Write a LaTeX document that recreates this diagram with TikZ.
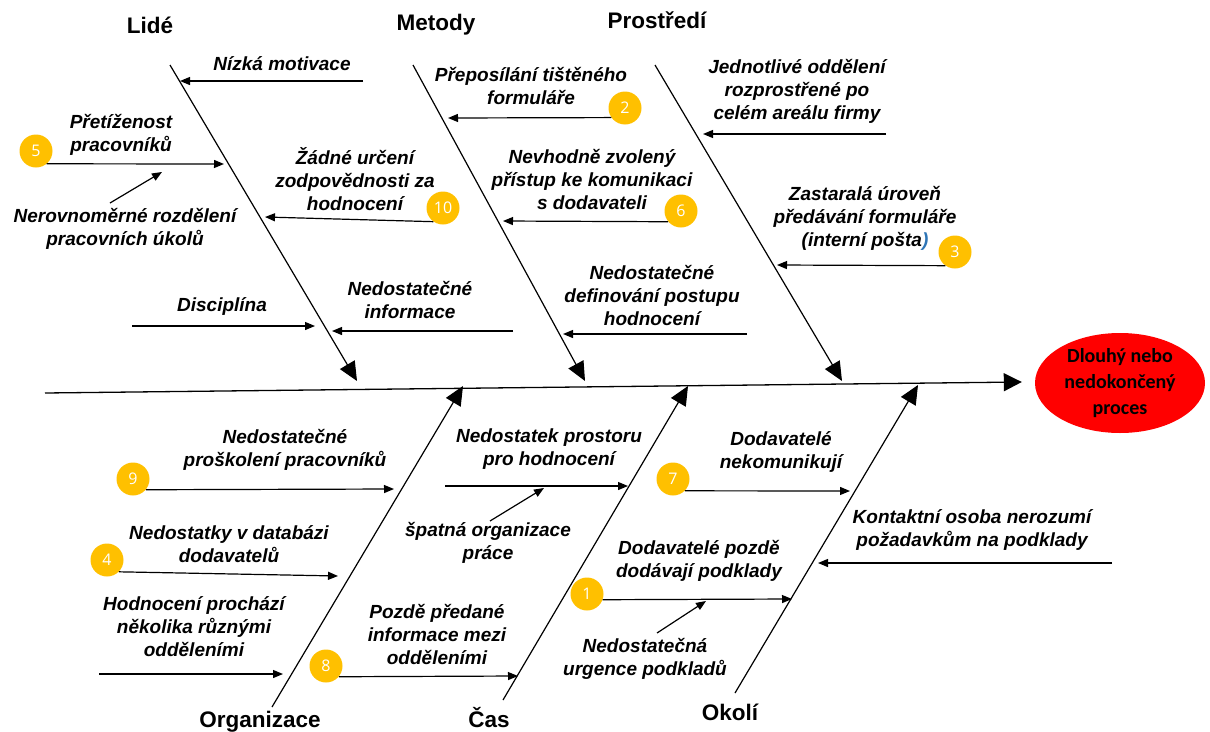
\documentclass[tikz,border=0pt]{standalone}
\usepackage{fontspec}
\setmainfont{Liberation Sans}
\newfontfamily\effectfont{Carlito}
\newfontfamily\badgefont{Open Sans}
\usetikzlibrary{arrows.meta,shapes.geometric}
\definecolor{badgeyellow}{HTML}{FFC000}
\definecolor{effectred}{HTML}{FF0000}
\definecolor{parenblue}{HTML}{2E75B6}
\tikzset{
  spine/.style={line width=1.3pt,-{Triangle[length=18pt,width=18pt]}},
  bone/.style={line width=1.2pt,-{Triangle[length=19pt,width=17pt]}},
  cause/.style={line width=1.2pt,-{Triangle[length=10pt,width=8pt]}},
  lbl/.style={align=center,inner sep=0pt,font=\fontsize{19}{23}\selectfont\bfseries\itshape},
  cat/.style={inner sep=0pt,anchor=base,font=\fontsize{22.5}{26}\selectfont\bfseries},
  badge/.style={circle,fill=badgeyellow,minimum size=33pt,inner sep=0pt,text=white,font=\badgefont\fontsize{16}{16}\selectfont},
  effectbox/.style={ellipse,fill=effectred,minimum width=170pt,minimum height=100pt,inner sep=0pt,align=center,font=\effectfont\fontsize{20}{26}\selectfont\bfseries}
}
\begin{document}
\begin{tikzpicture}[x=1pt,y=-1pt]
\useasboundingbox (0,0) rectangle (1210,731);

% effect and spine
\node[effectbox] (effect) at (1120,383) {Dlouhý nebo\\nedokončený\\proces};
\coordinate (tail) at (45,393);
\draw[spine] (tail) -- ([xshift=-13pt,yshift=1pt]effect.west);

% category bones
\coordinate (lideT) at (170,65);   \coordinate (lideH) at (357,381);
\coordinate (metT) at (413,65);    \coordinate (metH) at (585,381);
\coordinate (proT) at (655,65);    \coordinate (proH) at (842,381);
\coordinate (orgT) at (272,707);   \coordinate (orgH) at (463,386);
\coordinate (casT) at (503,700);   \coordinate (casH) at (688,386);
\coordinate (okoT) at (735,693);   \coordinate (okoH) at (918,385);
\draw[bone] (lideT) -- (lideH);
\draw[bone] (metT) -- (metH);
\draw[bone] (proT) -- (proH);
\draw[bone] (orgT) -- (orgH);
\draw[bone] (casT) -- (casH);
\draw[bone] (okoT) -- (okoH);

% category titles (placed on their baselines)
\node[cat] (tLide) at (150,33) {Lidé};
\node[cat] (tMet) at (436,30) {Metody};
\node[cat] (tPro) at (657,28) {Prostředí};
\node[cat] (tOrg) at (260,727) {Organizace};
\node[cat] (tCas) at (489,727) {Čas};
\node[cat] (tOko) at (730,720) {Okolí};

% ---- Lidé
\coordinate (a1s) at (363,81); \coordinate (a1e) at (180,81);
\draw[cause] (a1s) -- (a1e);
\node[lbl] (a1t) at (282,64) {Nízká motivace};

\node[badge] (n5) at (36,151) {5};
\coordinate (a2e) at (224,164);
\draw[cause] (n5.-50) -- (a2e);
\node[lbl] (a2t) at (121,135) {Přetíženost\\pracovníků};

\coordinate (a3s) at (110,203); \coordinate (a3e) at (162,172);
\draw[cause] (a3s) -- (a3e);
\node[lbl] (a3t) at (125,229) {Nerovnoměrné rozdělení\\pracovních úkolů};

\node[badge] (n10) at (443,208) {10};
\coordinate (a4e) at (265,217);
\draw[cause] (n10.-125) -- (a4e);
\node[lbl] (a4t) at (355,179) {Žádné určení\\zodpovědnosti za\\hodnocení};

\coordinate (a5s) at (132,326); \coordinate (a5e) at (315,326);
\draw[cause] (a5s) -- (a5e);
\node[lbl] (a5t) at (222,306) {Disciplína};

\coordinate (a6s) at (513,331); \coordinate (a6e) at (332,331);
\draw[cause] (a6s) -- (a6e);
\node[lbl] (a6t) at (410,300) {Nedostatečné\\informace};

% ---- Metody
\node[badge] (n2) at (625,108) {2};
\coordinate (b1e) at (448,118);
\draw[cause] (n2.-145) -- (b1e);
\node[lbl] (b1t) at (531,86) {Přeposílání tištěného\\formuláře};

\node[badge] (n6) at (681,211) {6};
\coordinate (b2e) at (503,221);
\draw[cause] (n6.-140) -- (b2e);
\node[lbl] (b2t) at (592,180) {Nevhodně zvolený\\přístup ke komunikaci\\s dodavateli};

\coordinate (b3s) at (747,334); \coordinate (b3e) at (563,334);
\draw[cause] (b3s) -- (b3e);
\node[lbl] (b3t) at (652,296) {Nedostatečné\\definování postupu\\hodnocení};

% ---- Prostředí
\coordinate (c1s) at (886,134); \coordinate (c1e) at (703,134);
\draw[cause] (c1s) -- (c1e);
\node[lbl] (c1t) at (797,91) {Jednotlivé oddělení\\rozprostřené po\\celém areálu firmy};

\node[badge] (n3) at (955,252) {3};
\coordinate (c2e) at (777,265);
\draw[cause] (n3.-125) -- (c2e);
\node[lbl] (c2t) at (865,218) {Zastaralá úroveň\\předávání formuláře\\(interní pošta{\color{parenblue})}};

% ---- Organizace
\node[badge] (n9) at (133,479) {9};
\coordinate (d1e) at (394,489);
\draw[cause] (n9.-40) -- (d1e);
\node[lbl] (d1t) at (285,450) {Nedostatečné\\proškolení pracovníků};

\node[badge] (n4) at (107,560) {4};
\coordinate (d2e) at (338,576);
\draw[cause] (n4.-45) -- (d2e);
\node[lbl] (d2t) at (229,544) {Nedostatky v databázi\\dodavatelů};

\coordinate (d3s) at (99,674); \coordinate (d3e) at (283,674);
\draw[cause] (d3s) -- (d3e);
\node[lbl] (d3t) at (194,627) {Hodnocení prochází\\několika různými\\odděleními};

% ---- Čas
\coordinate (e1s) at (445,486); \coordinate (e1e) at (628,486);
\draw[cause] (e1s) -- (e1e);
\node[lbl] (e1t) at (549,449) {Nedostatek prostoru\\pro hodnocení};

\coordinate (e2s) at (490,521); \coordinate (e2e) at (544,488);
\draw[cause] (e2s) -- (e2e);
\node[lbl] (e2t) at (488,543) {špatná organizace\\práce};

\node[badge] (n8) at (326,666) {8};
\coordinate (e3e) at (518,676);
\draw[cause] (n8.-40) -- (e3e);
\node[lbl] (e3t) at (437,634) {Pozdě předané\\informace mezi\\odděleními};

% ---- Okolí
\node[badge] (n7) at (673,479) {7};
\coordinate (f1e) at (850,491);
\draw[cause] (n7.-45) -- (f1e);
\node[lbl] (f1t) at (781,452) {Dodavatelé\\nekomunikují};

\node[badge] (n1) at (587,594) {1};
\coordinate (f2e) at (792,599);
\draw[cause] (n1.-20) -- (f2e);
\node[lbl] (f2t) at (699,561) {Dodavatelé pozdě\\dodávají podklady};

\coordinate (f3s) at (657,633); \coordinate (f3e) at (706,601);
\draw[cause] (f3s) -- (f3e);
\node[lbl] (f3t) at (645,659) {Nedostatečná\\urgence podkladů};

\coordinate (f4s) at (1112,563); \coordinate (f4e) at (818,563);
\draw[cause] (f4s) -- (f4e);
\node[lbl] (f4t) at (972,530) {Kontaktní osoba nerozumí\\požadavkům na podklady};
\end{tikzpicture}
\end{document}
